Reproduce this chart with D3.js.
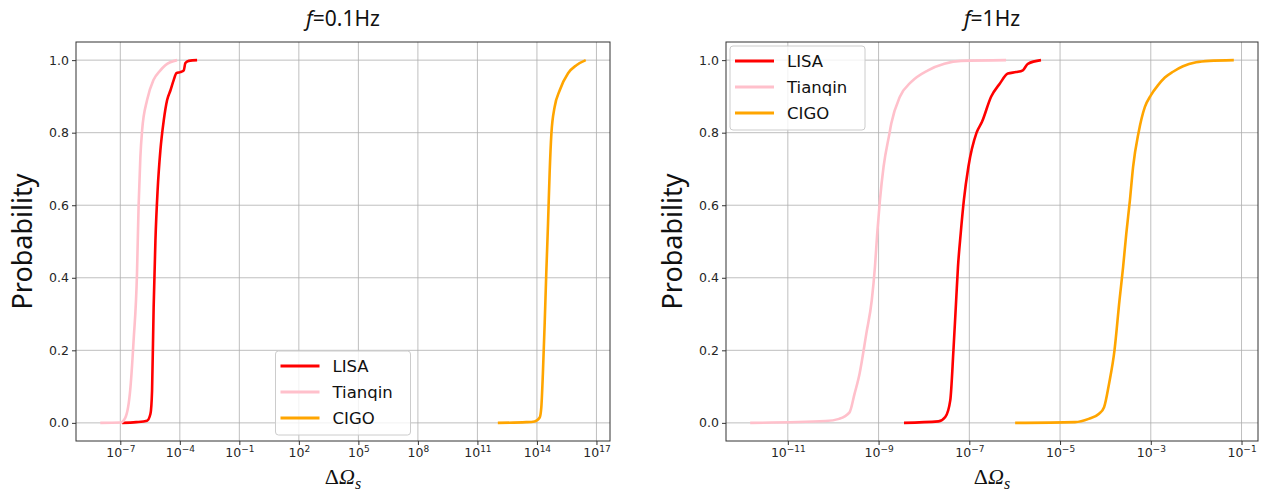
<!DOCTYPE html>
<html>
<head>
<meta charset="utf-8">
<script src="https://cdn.jsdelivr.net/npm/d3@7"></script>
<style>
  body { margin: 0; background: #fff; }
  svg { display: block; }
</style>
</head>
<body>
<svg id="chart"></svg>
<script>
// ---- data: log10(ΔΩ_s) and cumulative probability ----
// f = 0.1 Hz
const lisaLowExp    = [-6.91, -6.2, -5.65, -5.48, -5.40, -5.32, -5.23, -5.12, -4.98, -4.81, -4.64, -4.47, -4.31, -4.17, -3.97, -3.80, -3.72, -3.55, -3.13];
const lisaLowP      = [0, 0.002, 0.006, 0.025, 0.088, 0.318, 0.503, 0.641, 0.751, 0.834, 0.89, 0.917, 0.945, 0.964, 0.967, 0.972, 0.992, 0.998, 1];
const tianqinLowExp = [-8.01, -7.0, -6.75, -6.49, -6.33, -6.16, -6.08, -5.99, -5.90, -5.65, -5.33, -4.98, -4.73, -4.14];
const tianqinLowP   = [0, 0.001, 0.014, 0.097, 0.227, 0.41, 0.594, 0.732, 0.807, 0.89, 0.945, 0.972, 0.986, 1];
const cigoLowExp    = [12.03, 13.46, 13.88, 14.14, 14.22, 14.30, 14.39, 14.47, 14.56, 14.64, 14.73, 14.89, 15.15, 15.57, 15.99, 16.46];
const cigoLowP      = [0, 0.002, 0.004, 0.015, 0.042, 0.135, 0.273, 0.41, 0.55, 0.688, 0.798, 0.87, 0.917, 0.964, 0.986, 1];
// f = 1 Hz
const lisaHighExp    = [-8.44, -7.68, -7.53, -7.42, -7.35, -7.29, -7.25, -7.19, -7.12, -7.02, -6.84, -6.72, -6.52, -6.33, -6.15, -5.97, -5.82, -5.71, -5.42];
const lisaHighP      = [0, 0.004, 0.016, 0.062, 0.2, 0.338, 0.43, 0.522, 0.614, 0.706, 0.8, 0.83, 0.899, 0.935, 0.963, 0.967, 0.972, 0.99, 1];
const tianqinHighExp = [-11.83, -10.17, -9.87, -9.64, -9.53, -9.42, -9.27, -9.15, -9.08, -9.03, -8.97, -8.89, -8.76, -8.72, -8.53, -8.28, -7.91, -7.55, -7.18, -6.19];
const tianqinHighP   = [0, 0.005, 0.011, 0.029, 0.08, 0.135, 0.246, 0.338, 0.43, 0.522, 0.614, 0.706, 0.798, 0.825, 0.899, 0.94, 0.972, 0.99, 0.998, 1];
const cigoHighExp    = [-5.99, -4.67, -4.37, -4.14, -4.03, -3.92, -3.80, -3.69, -3.61, -3.54, -3.46, -3.39, -3.27, -3.13, -3.0, -2.84, -2.69, -2.51, -2.29, -2.0, -1.71, -1.17];
const cigoHighP      = [0, 0.002, 0.011, 0.025, 0.043, 0.108, 0.2, 0.338, 0.43, 0.522, 0.614, 0.706, 0.8, 0.871, 0.903, 0.931, 0.952, 0.968, 0.983, 0.994, 0.998, 1];

const seriesNames  = ['LISA', 'Tianqin', 'CIGO'];
const seriesColors = ['#ff0000', '#ffc0cb', '#ffa500'];
const yTicks       = [0, 0.2, 0.4, 0.6, 0.8, 1.0];
const lowTickExp   = [-7, -4, -1, 2, 5, 8, 11, 14, 17];
const highTickExp  = [-11, -9, -7, -5, -3, -1];
const titles       = ['0.1Hz', '1Hz'];

const W = 1268, H = 493;
const svg = d3.select('#chart').attr('width', W).attr('height', H);

const zip = (ex, ps) => ex.map((e, i) => ({x: Math.pow(10, e), p: ps[i]}));

const panels = [
  {
    left: 76, right: 610, title: titles[0], ticks: lowTickExp, legend: 'lower center',
    series: [zip(lisaLowExp, lisaLowP), zip(tianqinLowExp, tianqinLowP), zip(cigoLowExp, cigoLowP)]
  },
  {
    left: 726, right: 1258, title: titles[1], ticks: highTickExp, legend: 'upper left',
    series: [zip(lisaHighExp, lisaHighP), zip(tianqinHighExp, tianqinHighP), zip(cigoHighExp, cigoHighP)]
  }
];
const axTop = 42, axBottom = 441;

panels.forEach(pn => {
  const g = svg.append('g');
  const w = pn.right - pn.left, h = axBottom - axTop;

  // matplotlib-like 5% margins in log space
  const all = pn.series.flat();
  const lo = Math.log10(d3.min(all, d => d.x)), hi = Math.log10(d3.max(all, d => d.x));
  const pad = (hi - lo) * 0.05;
  const x = d3.scaleLog().domain([Math.pow(10, lo - pad), Math.pow(10, hi + pad)]).range([pn.left, pn.right]);
  const y = d3.scaleLinear().domain([-0.05, 1.05]).range([axBottom, axTop]);

  // grid
  g.append('g').selectAll('line').data(pn.ticks).join('line')
    .attr('x1', d => x(Math.pow(10, d))).attr('x2', d => x(Math.pow(10, d)))
    .attr('y1', axTop).attr('y2', axBottom)
    .attr('stroke', '#b0b0b0').attr('stroke-width', 1).attr('opacity', 0.8);
  g.append('g').selectAll('line').data(yTicks).join('line')
    .attr('x1', pn.left).attr('x2', pn.right)
    .attr('y1', d => y(d)).attr('y2', d => y(d))
    .attr('stroke', '#b0b0b0').attr('stroke-width', 1).attr('opacity', 0.8);

  // curves
  const line = d3.line().x(d => x(d.x)).y(d => y(d.p)).curve(d3.curveMonotoneX);
  pn.series.forEach((s, i) => {
    g.append('path').datum(s).attr('d', line)
      .attr('fill', 'none').attr('stroke', seriesColors[i]).attr('stroke-width', 2.6)
      .attr('stroke-linejoin', 'round').attr('stroke-linecap', 'butt');
  });

  // axes
  const xAxis = d3.axisBottom(x).tickValues(pn.ticks.map(e => Math.pow(10, e))).tickSize(4).tickPadding(3);
  const xg = g.append('g').attr('transform', `translate(0,${axBottom})`).call(xAxis);
  xg.selectAll('.tick text').each(function(d) {
    const t = d3.select(this).text(null);
    const e = Math.round(Math.log10(d));
    t.append('tspan').text('10');
    t.append('tspan').attr('font-size', 9).attr('dy', -5).text(String(e).replace('-', '\u2212'));
  });
  const yAxis = d3.axisLeft(y).tickValues(yTicks).tickFormat(d3.format('.1f')).tickSize(4).tickPadding(3);
  const yg = g.append('g').attr('transform', `translate(${pn.left},0)`).call(yAxis);
  [xg, yg].forEach(a => {
    a.select('.domain').remove();
    a.selectAll('.tick line').attr('stroke', '#333');
    a.selectAll('.tick text').attr('fill', '#262626').attr('font-family', 'DejaVu Sans').attr('font-size', 12.5);
  });

  // frame
  g.append('rect').attr('x', pn.left).attr('y', axTop).attr('width', w).attr('height', h)
    .attr('fill', 'none').attr('stroke', '#333').attr('stroke-width', 1);

  // title
  const cx = (pn.left + pn.right) / 2;
  const tt = g.append('text').attr('x', cx).attr('y', 26).attr('text-anchor', 'middle')
    .attr('font-family', 'Noto Sans').attr('font-size', 21).attr('fill', '#111');
  tt.append('tspan').attr('font-style', 'italic').text('f');
  tt.append('tspan').text('=' + pn.title);

  // y label
  g.append('text').attr('transform', `translate(${pn.left - 44},${(axTop + axBottom) / 2}) rotate(-90)`)
    .attr('text-anchor', 'middle').attr('font-family', 'Noto Sans').attr('font-size', 27).attr('fill', '#111')
    .text('Probability');

  // x label
  const xl = g.append('text').attr('x', cx).attr('y', 484).attr('text-anchor', 'middle')
    .attr('font-family', 'Liberation Serif').attr('font-size', 22).attr('fill', '#111');
  xl.append('tspan').text('\u0394');
  xl.append('tspan').attr('font-style', 'italic').text('\u03A9');
  xl.append('tspan').attr('font-style', 'italic').attr('font-size', 16).attr('dy', 5).text('s');

  // legend
  const lw = 135, lh = 84;
  const lx = pn.legend === 'lower center' ? cx - lw / 2 : pn.left + 4;
  const ly = pn.legend === 'lower center' ? axBottom - 6 - lh : axTop + 4;
  const lg = g.append('g').attr('transform', `translate(${lx},${ly})`);
  lg.append('rect').attr('width', lw).attr('height', lh).attr('rx', 3)
    .attr('fill', '#fff').attr('fill-opacity', 0.8).attr('stroke', '#cccccc').attr('stroke-width', 1);
  seriesNames.forEach((n, i) => {
    const ry = 15 + i * 26;
    lg.append('line').attr('x1', 5).attr('x2', 44).attr('y1', ry).attr('y2', ry)
      .attr('stroke', seriesColors[i]).attr('stroke-width', 3);
    lg.append('text').attr('x', 57).attr('y', ry).attr('dy', '0.36em')
      .attr('font-family', 'DejaVu Sans').attr('font-size', 16.5).attr('fill', '#111').text(n);
  });
});
</script>
</body>
</html>
